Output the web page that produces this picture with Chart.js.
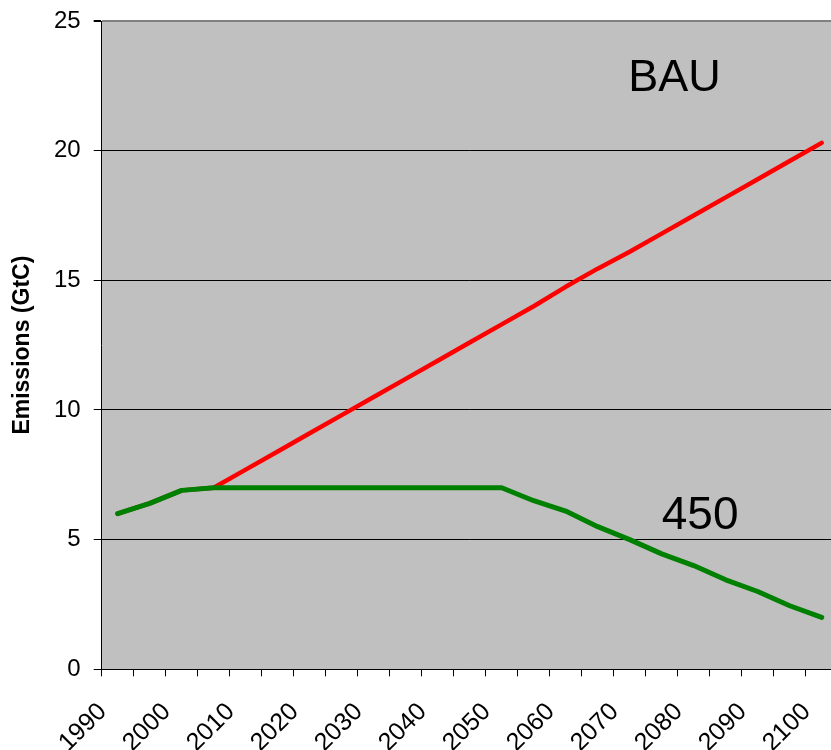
<!DOCTYPE html>
<html lang="en">
<head>
    <meta charset="UTF-8">
    <title>Emissions BAU vs 450</title>
    <style>
        body {
            margin: 0;
            padding: 0;
            background-color: #fff;
            overflow: hidden;
        }
        #chart-container {
            width: 846px;
            height: 750px;
        }
    </style>
    <script src="https://cdn.jsdelivr.net/npm/chart.js"></script>
</head>
<body>
    <div id="chart-container">
        <canvas id="emissions-chart" width="846" height="750"></canvas>
    </div>

    <script>
        // Data (5-year steps)
        const years = [1990, 1995, 2000, 2005, 2010, 2015, 2020, 2025, 2030, 2035, 2040, 2045,
                       2050, 2055, 2060, 2065, 2070, 2075, 2080, 2085, 2090, 2095, 2100];
        const bauValues = [6.0, 6.4, 6.9, 7.0, 7.7, 8.4, 9.1, 9.8, 10.5, 11.2, 11.9, 12.6,
                           13.3, 14.0, 14.75, 15.45, 16.1, 16.8, 17.5, 18.2, 18.9, 19.6, 20.3];
        const stab450Values = [6.0, 6.4, 6.9, 7.0, 7.0, 7.0, 7.0, 7.0, 7.0, 7.0, 7.0, 7.0,
                               7.0, 6.5, 6.1, 5.5, 5.0, 4.45, 4.0, 3.45, 3.0, 2.45, 2.0];
        const yTicks = [0, 5, 10, 15, 20, 25];

        const fontFamily = "'Liberation Sans', Arial, sans-serif";

        // grey plot background
        const plotBackground = {
            id: 'plotBackground',
            beforeDraw(chart) {
                const { ctx, chartArea } = chart;
                ctx.save();
                ctx.fillStyle = '#C0C0C0';
                ctx.fillRect(chartArea.left, chartArea.top, chartArea.right - chartArea.left, chartArea.bottom - chartArea.top);
                ctx.restore();
            }
        };

        // "BAU" and "450" labels placed in data coordinates
        const seriesLabels = {
            id: 'seriesLabels',
            afterDatasetsDraw(chart) {
                const { ctx, scales } = chart;
                ctx.save();
                ctx.fillStyle = '#000';
                ctx.textAlign = 'center';
                ctx.textBaseline = 'alphabetic';
                ctx.font = '45px ' + fontFamily;
                ctx.fillText('BAU', scales.x.getPixelForValue(17.4), scales.y.getPixelForValue(22.3));
                ctx.font = '46px ' + fontFamily;
                ctx.fillText('450', scales.x.getPixelForValue(18.2), scales.y.getPixelForValue(5.42));
                ctx.restore();
            }
        };

        const ctx = document.getElementById('emissions-chart').getContext('2d');
        new Chart(ctx, {
            type: 'line',
            data: {
                labels: years,
                datasets: [
                    {
                        label: '450',
                        data: stab450Values,
                        borderColor: '#008000',
                        borderWidth: 5,
                        pointRadius: 0,
                        tension: 0,
                        borderCapStyle: 'round',
                        borderJoinStyle: 'round'
                    },
                    {
                        label: 'BAU',
                        data: bauValues,
                        borderColor: '#FF0000',
                        borderWidth: 4.5,
                        pointRadius: 0,
                        tension: 0,
                        borderCapStyle: 'round',
                        borderJoinStyle: 'round'
                    }
                ]
            },
            options: {
                responsive: false,
                animation: false,
                devicePixelRatio: 1,
                layout: {
                    padding: { left: 0, top: 21, right: 8.3, bottom: 0 }
                },
                plugins: {
                    legend: { display: false },
                    tooltip: { enabled: false }
                },
                scales: {
                    x: {
                        type: 'category',
                        offset: true,
                        grid: {
                            offset: true,
                            drawOnChartArea: false,
                            drawTicks: true,
                            tickLength: 7,
                            color: '#000',
                            tickColor: '#000'
                        },
                        border: { display: true, color: '#000', width: 1 },
                        ticks: {
                            autoSkip: false,
                            maxRotation: 45,
                            minRotation: 45,
                            padding: 21,
                            labelOffset: -15,
                            color: '#000',
                            font: { family: fontFamily, size: 25 },
                            callback: function (value, index) {
                                return index % 2 === 0 ? String(years[index]) : '';
                            }
                        },
                        afterFit(scale) {
                            scale.height = 80.7;
                            scale.paddingLeft = 0;
                            scale.paddingRight = 0;
                        }
                    },
                    y: {
                        min: 0,
                        max: 25,
                        afterBuildTicks(scale) {
                            scale.ticks = yTicks.map(v => ({ value: v }));
                        },
                        grid: {
                            color: (c) => (c.tick && c.tick.value === 25 ? '#808080' : '#000'),
                            lineWidth: (c) => (c.tick && c.tick.value === 25 ? 2 : 1),
                            tickColor: '#000',
                            tickLength: 8,
                            drawTicks: true
                        },
                        border: { display: true, color: '#000', width: 1 },
                        ticks: {
                            padding: 13,
                            color: '#000',
                            font: { family: fontFamily, size: 24 }
                        },
                        title: {
                            display: true,
                            text: 'Emissions (GtC)',
                            color: '#000',
                            font: { family: fontFamily, size: 23, weight: 'bold' },
                            padding: { top: 9, bottom: 0 }
                        },
                        afterFit(scale) {
                            scale.width = 101.7;
                            scale.paddingTop = 0;
                            scale.paddingBottom = 0;
                        }
                    }
                }
            },
            plugins: [plotBackground, seriesLabels]
        });
    </script>
</body>
</html>
